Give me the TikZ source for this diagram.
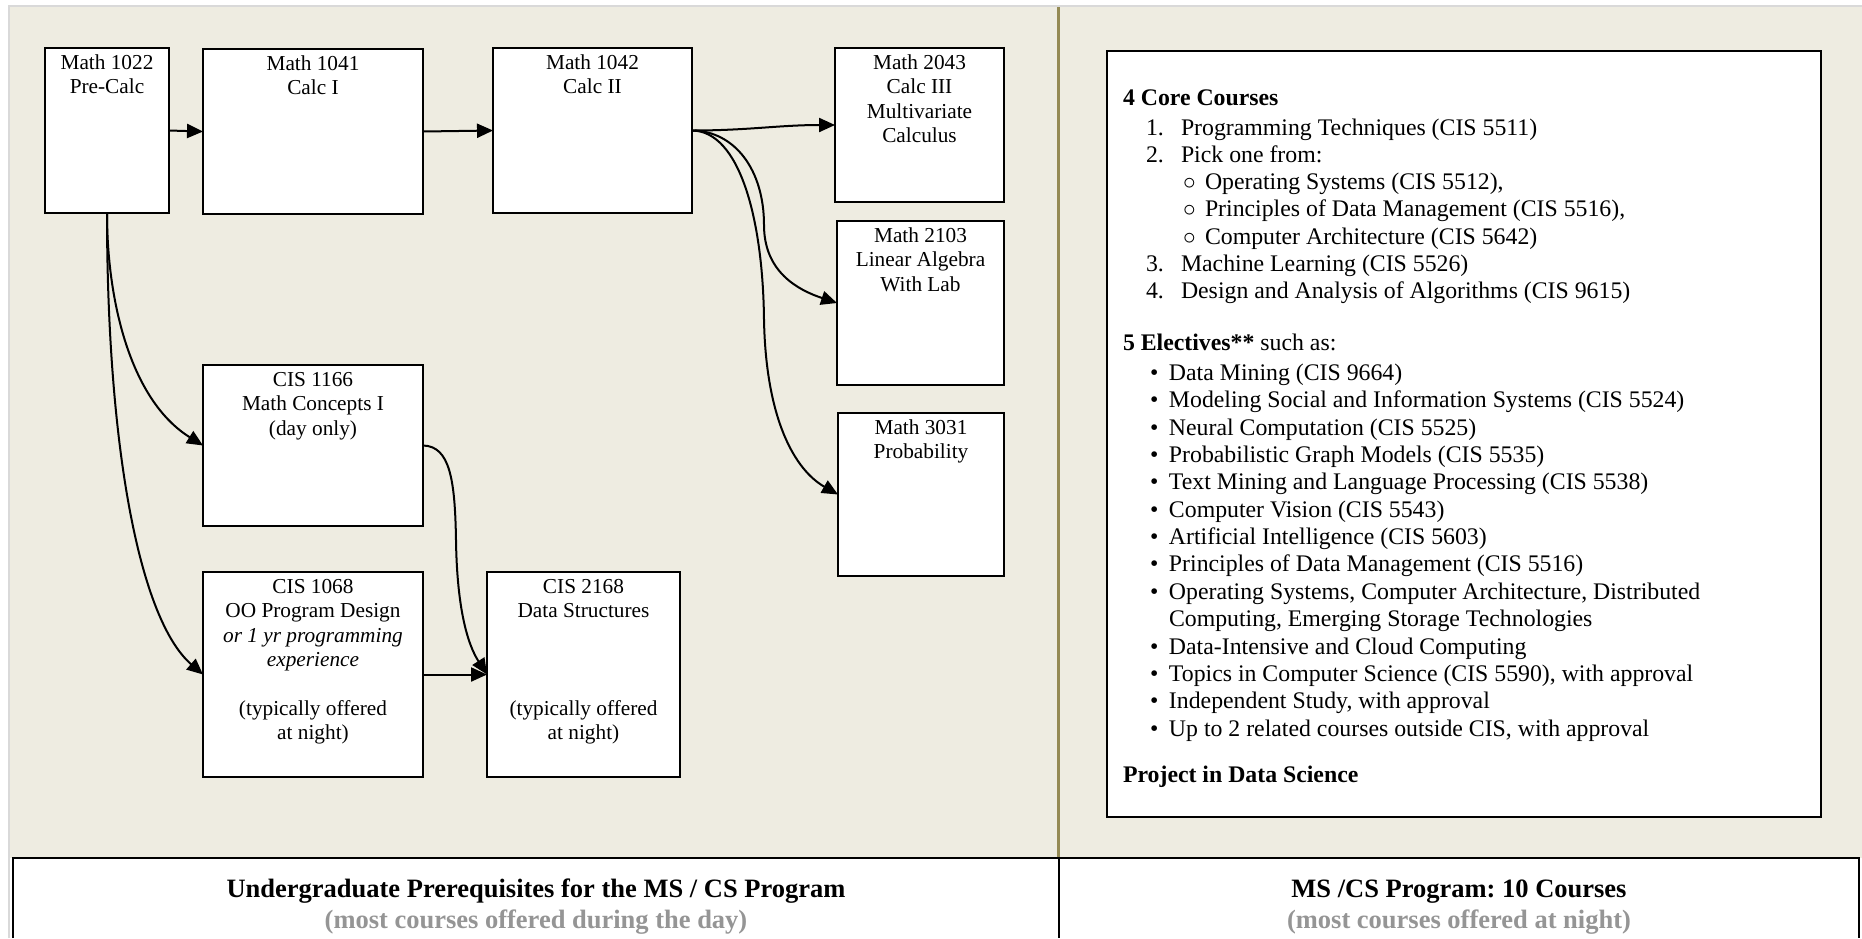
\documentclass[tikz,border=0pt]{standalone}
\usepackage{fontspec}
\setmainfont{Liberation Serif}
\usetikzlibrary{arrows.meta}
\definecolor{panelbeige}{HTML}{EEECE1}
\definecolor{paneldivider}{HTML}{948A54}
\definecolor{subgray}{HTML}{959595}
\definecolor{framegray}{HTML}{D9D9D9}
\newlength{\pxu}
\setlength{\pxu}{0.569055pt}
\newcommand{\boxtext}[3]{\parbox[c][#2\pxu][t]{#1\pxu}{\centering\fontsize{12.12pt}{13.94pt}\selectfont\rule{0pt}{11.95pt}#3\par}}
\newcommand{\elbul}{\makebox[10.81pt][l]{•}}
\newcommand{\elgap}{\makebox[10.81pt][l]{}}
\newcommand{\numlab}[1]{\makebox[19.92pt][l]{#1}}
\newcommand{\sublab}{\makebox[12.52pt][l]{$\circ$}}
\tikzset{
  cbox/.style={draw, line width=1.14pt, fill=white, inner sep=0pt, outer sep=0pt, rectangle},
  arr/.style={line width=1.14pt, -{Triangle[length=9.1pt,width=8pt]}},
  rtxt/.style={anchor=base west, inner sep=0pt, outer sep=0pt, font=\fontsize{13.54pt}{15.53pt}\selectfont},
  ttl/.style={anchor=base, inner sep=0pt, outer sep=0pt, font=\fontsize{15.08pt}{17pt}\selectfont\bfseries}
}
\begin{document}
\frenchspacing
\begin{tikzpicture}[x=0.02cm, y=-0.02cm]
\fill[white] (0,0) rectangle (1862,938);
\useasboundingbox (0,0) rectangle (1862,938);
% panels
\fill[panelbeige] (10,7) rectangle (1862,858);
\draw[framegray, line width=1.2pt] (9,938) -- (9,6) -- (1862,6);
\fill[paneldivider] (1056.5,7) rectangle (1060,858);
\draw[line width=1.14pt] (12.6,938) -- (12.6,858.3) -- (1859,858.3) -- (1859,938);
\draw[line width=1.14pt] (1059,858.3) -- (1059,938);

% course boxes
\node[cbox] (m1022) at (107,130.5) {\boxtext{124}{165}{Math 1022\\Pre-Calc}};
\node[cbox] (m1041) at (313,131.5) {\boxtext{220}{165}{Math 1041\\Calc I}};
\node[cbox] (m1042) at (592.5,130.5) {\boxtext{199}{165}{Math 1042\\Calc II}};
\node[cbox] (m2043) at (919.5,125) {\boxtext{169}{154}{Math 2043\\Calc III\\Multivariate\\Calculus}};
\node[cbox] (m2103) at (920.5,303) {\boxtext{167}{164}{Math 2103\\Linear Algebra\\With Lab}};
\node[cbox] (m3031) at (921,494.5) {\boxtext{166}{163}{Math 3031\\Probability}};
\node[cbox] (c1166) at (313,445.5) {\boxtext{220}{161}{CIS 1166\\Math Concepts I\\(day only)}};
\node[cbox] (c1068) at (313,674.5) {\boxtext{220}{205}{CIS 1068\\OO Program Design\\\textit{or 1 yr programming}\\\textit{experience}\\\mbox{}\\(typically offered\\at night)}};
\node[cbox] (c2168) at (583.5,674.5) {\boxtext{193}{205}{CIS 2168\\Data Structures\\\mbox{}\\\mbox{}\\\mbox{}\\(typically offered\\at night)}};

% connectors
\draw[arr] (m1022.east) -- (m1041.west);
\draw[arr] (m1041.east) -- (m1042.west);
\draw[arr] (m1042.east) to[out=0,in=180] (m2043.west);
\draw[arr] (m1042.east) .. controls (735,131) and (764,170) .. (764,225) .. controls (764,272) and (798,290) .. (m2103.west);
\draw[arr] (m1042.east) .. controls (740,131) and (763,220) .. (764,320) .. controls (766,420) and (795,470) .. (m3031.west);
\draw[arr] (m1022.south) .. controls (107,300) and (130,400) .. (c1166.west);
\draw[arr] (m1022.south) .. controls (107,450) and (140,620) .. (c1068.west);
\draw[arr] (c1166.east) .. controls (450,446) and (455,480) .. (456,540) .. controls (457,610) and (468,645) .. (c2168.west);
\draw[arr] (c1068.east) -- (c2168.west);

% right panel
\node[draw, fill=white, line width=1.14pt, inner sep=0pt, outer sep=0pt, minimum width=714*\pxu, minimum height=766*\pxu] (rbox) at (1464,434) {};
\node[rtxt] (core) at (1123,105.7) {\textbf{4 Core Courses}};
\node[rtxt] (n1) at (1146,135) {\numlab{1.}Programming Techniques (CIS 5511)};
\node[rtxt] (n2) at (1146,162.3) {\numlab{2.}Pick one from:};
\node[rtxt] (s1) at (1183,189.6) {\sublab Operating Systems (CIS 5512),};
\node[rtxt] (s2) at (1183,216.9) {\sublab Principles of Data Management (CIS 5516),};
\node[rtxt] (s3) at (1183,244.2) {\sublab Computer Architecture (CIS 5642)};
\node[rtxt] (n3) at (1146,271.5) {\numlab{3.}Machine Learning (CIS 5526)};
\node[rtxt] (n4) at (1146,298.8) {\numlab{4.}Design and Analysis of Algorithms (CIS 9615)};
\node[rtxt] (elec) at (1123,350) {\textbf{5 Electives**} such as:};
\foreach \txt [count=\i from 0] in {
  {\elbul Data Mining (CIS 9664)},
  {\elbul Modeling Social and Information Systems (CIS 5524)},
  {\elbul Neural Computation (CIS 5525)},
  {\elbul Probabilistic Graph Models (CIS 5535)},
  {\elbul Text Mining and Language Processing (CIS 5538)},
  {\elbul Computer Vision (CIS 5543)},
  {\elbul Artificial Intelligence (CIS 5603)},
  {\elbul Principles of Data Management (CIS 5516)},
  {\elbul Operating Systems, Computer Architecture, Distributed},
  {\elgap Computing, Emerging Storage Technologies},
  {\elbul Data-Intensive and Cloud Computing},
  {\elbul Topics in Computer Science (CIS 5590), with approval},
  {\elbul Independent Study, with approval},
  {\elbul Up to 2 related courses outside CIS, with approval}
}{
  \node[rtxt] (e\i) at (1150,{380.5+27.35*\i}) {\txt};
}
\node[rtxt] (proj) at (1123,782.3) {\textbf{Project in Data Science}};

% titles
\node[ttl] (ltitle) at (536,897.3) {Undergraduate Prerequisites for the MS / CS Program};
\node[ttl, text=subgray] (lsub) at (536,928.3) {(most courses offered during the day)};
\node[ttl] (rtitle) at (1459,897.3) {MS /CS Program: 10 Courses};
\node[ttl, text=subgray] (rsub) at (1459,928.3) {(most courses offered at night)};
\end{tikzpicture}
\end{document}
